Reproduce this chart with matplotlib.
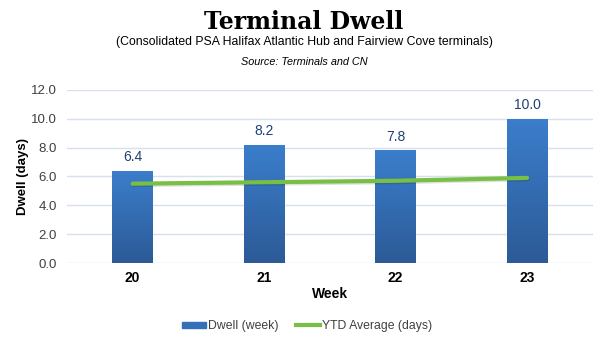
import numpy as np
import matplotlib.pyplot as plt
import matplotlib.patheffects as pe
from matplotlib.lines import Line2D
from matplotlib.patches import Patch
from matplotlib.colors import LinearSegmentedColormap

weeks = ['20', '21', '22', '23']
dwell_week = [6.4, 8.2, 7.8, 10.0]
ytd_avg = [5.5, 5.6, 5.7, 5.9]

fig = plt.figure(figsize=(6.08, 3.47), dpi=100)
ax = fig.add_axes([0.110, 0.242, 0.865, 0.499])

x = np.arange(len(weeks))
bars = ax.bar(x, dwell_week, width=0.31, color='#3470B8', zorder=2)

# vertical gradient on the bars
grad = np.linspace(0, 1, 256).reshape(-1, 1)
cmap = LinearSegmentedColormap.from_list('bg', ['#2C5A96', '#3B7ECC'])
for b in bars:
    bx, by = b.get_x(), b.get_y()
    w, h = b.get_width(), b.get_height()
    im = ax.imshow(grad, extent=[bx, bx + w, by, by + h], origin='lower',
                   aspect='auto', cmap=cmap, zorder=2.1)
    im.set_clip_path(b)

for xi, v in zip(x, dwell_week):
    ax.text(xi, v + 0.45, f'{v:.1f}', ha='center', va='bottom',
            fontsize=10, color='#1F3F73', family='Liberation Sans')

ax.plot(x, ytd_avg, color='#77C043', lw=3, zorder=3, solid_capstyle='round',
        path_effects=[pe.SimpleLineShadow(offset=(0.5, -1), alpha=0.12), pe.Normal()])

ax.set_xlim(-0.5, 3.5)
ax.set_ylim(0, 12)
ax.set_yticks(np.arange(0, 12.1, 2))
ax.set_yticklabels([f'{v:.1f}' for v in np.arange(0, 12.1, 2)],
                   fontsize=9.5, color='#404040', family='Liberation Sans')
ax.set_xticks(x)
ax.set_xticklabels(weeks, fontsize=10, fontweight='bold', family='Liberation Sans')
ax.tick_params(axis='x', length=0, pad=6)
ax.tick_params(axis='y', length=0, pad=7)
ax.grid(axis='y', color='#D6E0EE', lw=1, zorder=0)
ax.set_axisbelow(True)
for s in ax.spines.values():
    s.set_visible(False)

ax.set_ylabel('Dwell (days)', fontsize=9.5, fontweight='bold', family='Liberation Sans', labelpad=2)
ax.set_xlabel('Week', fontsize=10, fontweight='bold', family='Liberation Sans', labelpad=1)

fig.text(0.5, 0.937, 'Terminal Dwell', ha='center', va='center', fontsize=17, fontweight='bold',
         family='DejaVu Serif')
fig.text(0.5, 0.880, '(Consolidated PSA Halifax Atlantic Hub and Fairview Cove terminals)',
         ha='center', va='center', fontsize=8.8, family='Liberation Sans')
fig.text(0.5, 0.822, 'Source: Terminals and CN', ha='center', va='center', fontsize=7.8,
         style='italic', family='Liberation Sans')

handles = [Patch(color='#3470B8'), Line2D([], [], color='#77C043', lw=3)]
fig.legend(handles, ['Dwell (week)', 'YTD Average (days)'], loc='center',
           bbox_to_anchor=(0.505, 0.06), ncol=2, frameon=False,
           prop={'family': 'Liberation Sans', 'size': 8.8}, handlelength=2.0,
           handleheight=0.45, columnspacing=1.4, handletextpad=0.15,
           labelcolor='#404040')

fig.savefig('out.png', dpi=100)
